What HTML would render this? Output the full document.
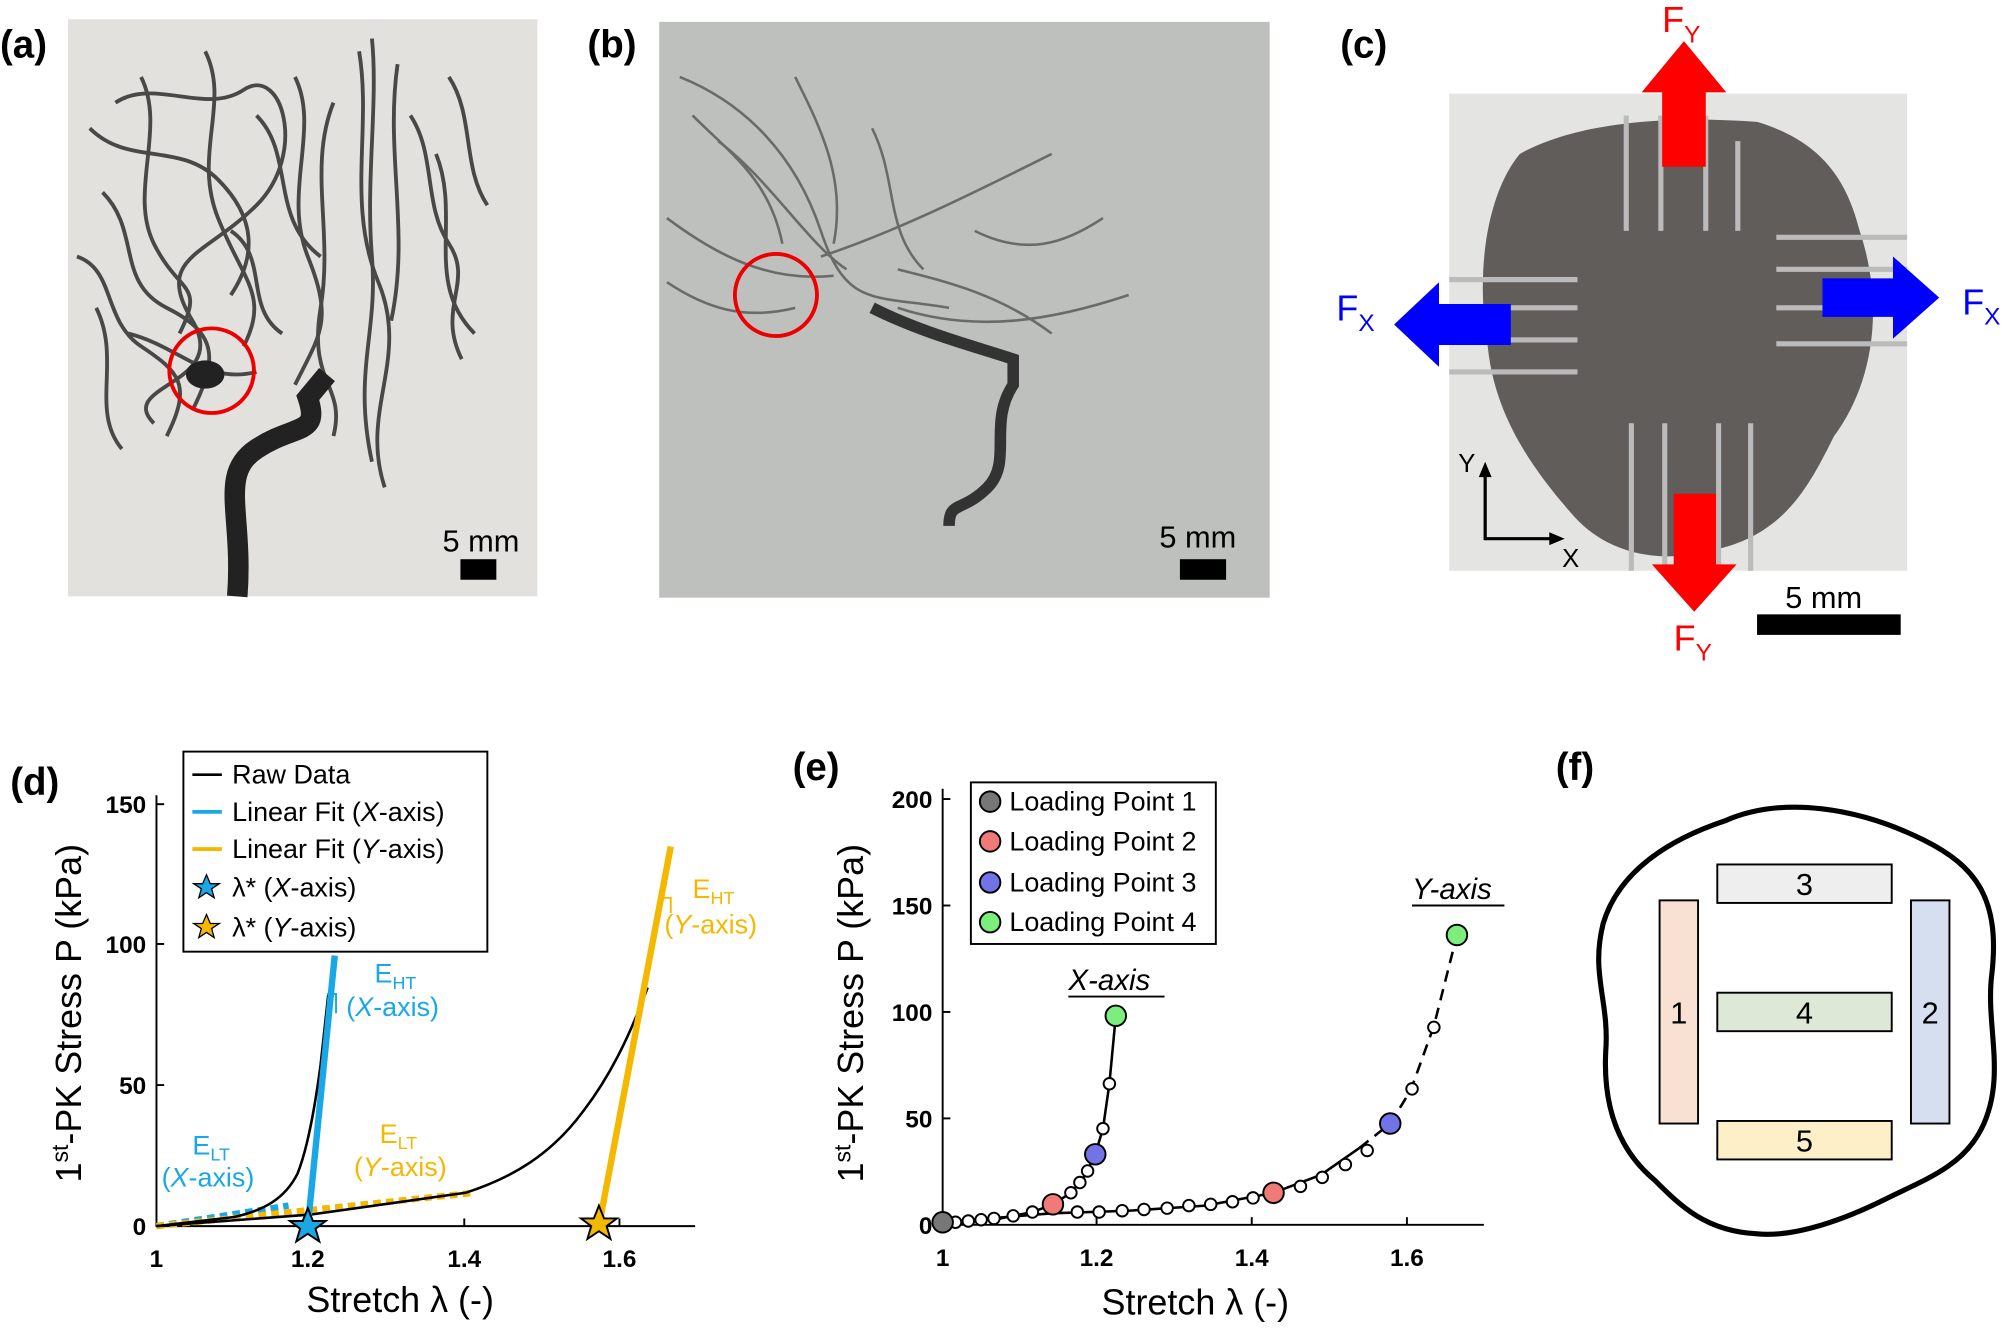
<!DOCTYPE html>
<html><head><meta charset="utf-8"><style>
html,body{margin:0;padding:0;background:#fff;}
svg{display:block;}
text{font-family:"Liberation Sans",Arial,sans-serif;}
</style></head><body>
<svg width="2011" height="1328" viewBox="0 0 1568 1035.4" xmlns="http://www.w3.org/2000/svg">
<rect width="1568" height="1036" fill="#fff"/>
<!-- panel a -->
<rect x="53" y="15" width="366" height="450" fill="#e2e1dd"/>
<g fill="none" stroke="#222" stroke-width="3" opacity="0.8">
<path d="M90 80 C120 60 160 90 190 70 S240 120 200 160 S120 200 150 250 S90 300 120 330"/>
<path d="M280 40 C290 100 270 160 295 220 S280 320 300 380"/>
<path d="M310 50 C300 120 320 180 305 250"/>
<path d="M80 150 C110 180 90 220 130 240 S170 280 150 320"/>
<path d="M200 90 C230 120 210 170 250 200"/>
<path d="M100 260 C140 270 160 300 200 290"/>
<path d="M340 120 C360 170 330 220 370 260"/>
<path d="M70 100 C100 130 140 110 170 140 S200 200 180 230"/>
<path d="M110 60 C130 100 100 150 120 190 S160 220 140 260"/>
<path d="M160 40 C180 80 150 120 170 170 S210 230 190 270"/>
<path d="M230 60 C250 100 220 150 240 200 S250 260 230 300"/>
<path d="M60 200 C90 210 80 250 110 270 S150 300 130 340"/>
<path d="M260 80 C240 130 260 180 250 240 S270 300 260 340"/>
<path d="M290 30 C295 80 285 140 290 200 S275 290 290 360"/>
<path d="M320 90 C340 120 330 160 350 190 S340 240 360 280"/>
<path d="M350 60 C370 90 360 130 380 160"/>
<path d="M75 240 C95 280 70 320 95 350"/>
<path d="M180 180 C210 200 190 240 220 260"/>
</g>
<path d="M185 465 C190 400 170 370 200 350 S250 340 240 310 L255 292" fill="none" stroke="#222" stroke-width="16"/>
<ellipse cx="160" cy="292" rx="15" ry="11" fill="#222"/>
<circle cx="165" cy="289" r="33" fill="none" stroke="#e00" stroke-width="3"/>
<text x="345" y="430" font-size="24">5 mm</text>
<rect x="359" y="436" width="28" height="16" fill="#000"/>
<text x="0" y="45" font-size="30" font-weight="bold">(a)</text>
<!-- panel b -->
<rect x="514" y="17" width="476" height="449" fill="#bdc0bd"/>
<g fill="none" stroke="#333" stroke-width="2" opacity="0.6">
<path d="M530 60 C580 80 620 120 640 180 S680 230 740 240"/>
<path d="M560 110 C600 140 630 190 660 210"/>
<path d="M520 170 C560 200 600 220 650 215"/>
<path d="M640 200 C700 180 760 150 820 120"/>
<path d="M700 240 C760 260 820 250 880 230"/>
<path d="M540 90 C570 120 600 140 610 190"/>
<path d="M620 60 C640 100 660 140 650 190"/>
<path d="M680 100 C700 140 690 180 720 210"/>
<path d="M760 180 C800 200 830 190 860 170"/>
<path d="M520 220 C550 240 580 250 620 240"/>
<path d="M700 210 C740 220 780 230 820 260"/>
</g>
<path d="M680 240 C720 260 760 270 790 280 L790 300 C770 330 790 360 770 380 S740 390 740 410" fill="none" stroke="#333" stroke-width="9"/>
<circle cx="605" cy="230" r="32" fill="none" stroke="#e00" stroke-width="3"/>
<text x="904" y="427" font-size="24">5 mm</text>
<rect x="920" y="436" width="36" height="16" fill="#000"/>
<text x="458" y="45" font-size="30" font-weight="bold">(b)</text>
<!-- panel c -->
<rect x="1130" y="73" width="357" height="372" fill="#e4e4e2"/>
<path d="M1185 120 C1230 95 1300 90 1370 95 C1420 110 1440 140 1450 180 C1470 240 1460 300 1430 340 C1410 380 1390 420 1330 430 C1290 440 1250 430 1225 400 C1190 360 1165 320 1160 270 C1150 210 1160 150 1185 120 Z" fill="#615d5b"/>
<g stroke="#bbb" stroke-width="4">
<line x1="1130" y1="218" x2="1230" y2="218"/><line x1="1130" y1="240" x2="1230" y2="240"/><line x1="1130" y1="265" x2="1230" y2="265"/><line x1="1130" y1="290" x2="1230" y2="290"/>
<line x1="1385" y1="185" x2="1487" y2="185"/><line x1="1385" y1="210" x2="1487" y2="210"/><line x1="1385" y1="240" x2="1487" y2="240"/><line x1="1385" y1="268" x2="1487" y2="268"/>
<line x1="1268" y1="90" x2="1268" y2="180"/><line x1="1295" y1="90" x2="1295" y2="180"/><line x1="1330" y1="90" x2="1330" y2="180"/><line x1="1355" y1="110" x2="1355" y2="180"/>
<line x1="1272" y1="330" x2="1272" y2="445"/><line x1="1298" y1="330" x2="1298" y2="445"/><line x1="1340" y1="330" x2="1340" y2="445"/><line x1="1365" y1="330" x2="1365" y2="445"/>
</g>
<polygon points="1296,130 1296,72 1280,72 1313,32 1346,72 1330,72 1330,130" fill="#f00"/>
<polygon points="1305,385 1305,440 1288,440 1321,477 1354,440 1338,440 1338,385" fill="#f00"/>
<polygon points="1178,237 1122,237 1122,220 1087,253 1122,286 1122,269 1178,269" fill="#00f"/>
<polygon points="1421,217 1476,217 1476,200 1512,232 1476,264 1476,247 1421,247" fill="#00f"/>
<text x="1296" y="25" font-size="28" fill="#f00">F<tspan font-size="19" dy="8">Y</tspan></text>
<text x="1305" y="507" font-size="28" fill="#f00">F<tspan font-size="19" dy="8">Y</tspan></text>
<text x="1042" y="250" font-size="28" fill="#00f">F<tspan font-size="19" dy="8">X</tspan></text>
<text x="1530" y="245" font-size="28" fill="#00f">F<tspan font-size="19" dy="8">X</tspan></text>
<path d="M1158 365 L1158 420 L1215 420" fill="none" stroke="#000" stroke-width="2.5"/>
<polygon points="1158,360 1153,372 1163,372" fill="#000"/><polygon points="1220,420 1208,415 1208,425" fill="#000"/>
<text x="1137" y="368" font-size="20">Y</text><text x="1218" y="442" font-size="20">X</text>
<text x="1392" y="474" font-size="24">5 mm</text>
<rect x="1370" y="479" width="112" height="16" fill="#000"/>
<text x="1045" y="45" font-size="30" font-weight="bold">(c)</text>
<!-- panel d -->
<text x="8" y="620" font-size="30" font-weight="bold">(d)</text>
<path d="M122 620 L122 956 L542 956" fill="none" stroke="#000" stroke-width="1.5"/>
<g stroke="#000" stroke-width="1.5"><line x1="122" y1="627" x2="128" y2="627"/><line x1="122" y1="736" x2="128" y2="736"/><line x1="122" y1="846" x2="128" y2="846"/>
<line x1="240" y1="956" x2="240" y2="950"/><line x1="362" y1="956" x2="362" y2="950"/><line x1="483" y1="956" x2="483" y2="950"/></g>
<g font-size="19" font-weight="bold" text-anchor="end"><text x="114" y="634">150</text><text x="114" y="743">100</text><text x="114" y="853">50</text><text x="114" y="963">0</text></g>
<g font-size="19" font-weight="bold" text-anchor="middle"><text x="122" y="988">1</text><text x="240" y="988">1.2</text><text x="362" y="988">1.4</text><text x="483" y="988">1.6</text></g>
<text x="312" y="1023" font-size="28" text-anchor="middle">Stretch λ (-)</text>
<text transform="translate(63,790) rotate(-90)" font-size="28" text-anchor="middle">1<tspan font-size="18" dy="-10">st</tspan><tspan dy="10">-PK Stress P (kPa)</tspan></text>
<line x1="122" y1="956" x2="225" y2="940" stroke="#1aa7e6" stroke-width="5" stroke-dasharray="6,4"/>
<line x1="122" y1="956" x2="370" y2="930" stroke="#f5b800" stroke-width="5" stroke-dasharray="6,4"/>
<path d="M122 956 L182 949 C205 944 222 935 232 915 C240 895 246 860 250 830 L256 775" fill="none" stroke="#000" stroke-width="2"/>
<path d="M122 956 L242 947 L363 930 C400 918 430 900 455 866 C475 840 490 810 505 770" fill="none" stroke="#000" stroke-width="2"/>
<line x1="240" y1="956" x2="261" y2="745" stroke="#1aa7e6" stroke-width="5"/>
<line x1="467" y1="956" x2="523" y2="660" stroke="#f5b800" stroke-width="5"/>
<polyline points="255,775 262,775 262,790" fill="none" stroke="#1aa7e6" stroke-width="1.5"/>
<polyline points="515,700 523,700 523,712" fill="none" stroke="#f5b800" stroke-width="1.5"/>
<polygon points="240,942 244,952 254,952 246,958 249,968 240,962 231,968 234,958 226,952 236,952" fill="#1aa7e6" stroke="#000" stroke-width="1.5"/>
<polygon points="467,940 471,950 481,950 473,956 476,966 467,960 458,966 461,956 453,950 463,950" fill="#f5b800" stroke="#000" stroke-width="1.5"/>
<g font-size="21" fill="#1aa7e6"><text x="150" y="900">E<tspan font-size="14" dy="5">LT</tspan></text><text x="126" y="925">(<tspan font-style="italic">X</tspan>-axis)</text>
<text x="292" y="766">E<tspan font-size="14" dy="5">HT</tspan></text><text x="270" y="792">(<tspan font-style="italic">X</tspan>-axis)</text></g>
<g font-size="21" fill="#f5b800"><text x="296" y="891">E<tspan font-size="14" dy="5">LT</tspan></text><text x="276" y="917">(<tspan font-style="italic">Y</tspan>-axis)</text>
<text x="540" y="700">E<tspan font-size="14" dy="5">HT</tspan></text><text x="518" y="728">(<tspan font-style="italic">Y</tspan>-axis)</text></g>
<rect x="143" y="586" width="237" height="156" fill="#fff" stroke="#000" stroke-width="1.5"/>
<g font-size="21"><text x="181" y="611">Raw Data</text><text x="181" y="640">Linear Fit (<tspan font-style="italic">X</tspan>-axis)</text><text x="181" y="669">Linear Fit (<tspan font-style="italic">Y</tspan>-axis)</text><text x="181" y="699">λ* (<tspan font-style="italic">X</tspan>-axis)</text><text x="181" y="730">λ* (<tspan font-style="italic">Y</tspan>-axis)</text></g>
<line x1="150" y1="604" x2="173" y2="604" stroke="#000" stroke-width="2"/>
<line x1="150" y1="633" x2="173" y2="633" stroke="#1aa7e6" stroke-width="3"/>
<line x1="150" y1="662" x2="173" y2="662" stroke="#f5b800" stroke-width="3"/>
<polygon points="161,682 164,689 171,689 165,693 167,700 161,696 155,700 157,693 151,689 158,689" fill="#1aa7e6" stroke="#000"/>
<polygon points="161,713 164,720 171,720 165,724 167,731 161,727 155,731 157,724 151,720 158,720" fill="#f5b800" stroke="#000"/>
<!-- panel e -->
<text x="618" y="608" font-size="30" font-weight="bold">(e)</text>
<path d="M735 615 L735 955 L1157 955" fill="none" stroke="#000" stroke-width="1.5"/>
<g stroke="#000" stroke-width="1.5"><line x1="735" y1="623" x2="741" y2="623"/><line x1="735" y1="706" x2="741" y2="706"/><line x1="735" y1="789" x2="741" y2="789"/><line x1="735" y1="872" x2="741" y2="872"/>
<line x1="855" y1="955" x2="855" y2="949"/><line x1="976" y1="955" x2="976" y2="949"/><line x1="1097" y1="955" x2="1097" y2="949"/></g>
<g font-size="19" font-weight="bold" text-anchor="end"><text x="727" y="630">200</text><text x="727" y="713">150</text><text x="727" y="796">100</text><text x="727" y="879">50</text><text x="727" y="962">0</text></g>
<g font-size="19" font-weight="bold" text-anchor="middle"><text x="735" y="987">1</text><text x="855" y="987">1.2</text><text x="976" y="987">1.4</text><text x="1097" y="987">1.6</text></g>
<text x="932" y="1025" font-size="28" text-anchor="middle">Stretch λ (-)</text>
<text transform="translate(673,790) rotate(-90)" font-size="28" text-anchor="middle">1<tspan font-size="18" dy="-10">st</tspan><tspan dy="10">-PK Stress P (kPa)</tspan></text>
<path d="M735 953 L780 950 L805 945 L821 939 L835 930 L845 918 L854 900 L860 880 L865 845 L870 792" fill="none" stroke="#000" stroke-width="2"/>
<path d="M735 953 L820 946 L880 944 L940 940 L993 930 L1030 916 L1060 895" fill="none" stroke="#000" stroke-width="2"/>
<path d="M1060 895 L1084 876 L1100 850 L1118 800 L1136 729" fill="none" stroke="#000" stroke-width="2" stroke-dasharray="9,6"/>
<g fill="#fff" stroke="#000" stroke-width="1.5">
<circle cx="745" cy="953" r="4.5"/><circle cx="755" cy="952" r="4.5"/><circle cx="765" cy="951" r="4.5"/><circle cx="775" cy="950" r="4.5"/><circle cx="790" cy="948" r="4.5"/><circle cx="805" cy="945" r="4.5"/>
<circle cx="835" cy="930" r="4.5"/><circle cx="842" cy="922" r="4.5"/><circle cx="848" cy="913" r="4.5"/><circle cx="860" cy="880" r="4.5"/><circle cx="865" cy="845" r="4.5"/>
<circle cx="840" cy="945" r="4.5"/><circle cx="857" cy="945" r="4.5"/><circle cx="875" cy="944" r="4.5"/><circle cx="892" cy="943" r="4.5"/><circle cx="910" cy="942" r="4.5"/><circle cx="927" cy="940" r="4.5"/><circle cx="944" cy="939" r="4.5"/><circle cx="961" cy="937" r="4.5"/><circle cx="977" cy="934" r="4.5"/>
<circle cx="1014" cy="925" r="4.5"/><circle cx="1031" cy="918" r="4.5"/><circle cx="1049" cy="908" r="4.5"/><circle cx="1066" cy="897" r="4.5"/><circle cx="1101" cy="849" r="4.5"/><circle cx="1118" cy="801" r="4.5"/>
</g>
<g stroke="#000" stroke-width="1.5">
<circle cx="735" cy="953" r="8" fill="#777"/>
<circle cx="821" cy="939" r="8" fill="#f07a78"/><circle cx="854" cy="900" r="8" fill="#7373e8"/><circle cx="870" cy="792" r="8" fill="#7cee7c"/>
<circle cx="993" cy="930" r="8" fill="#f07a78"/><circle cx="1084" cy="876" r="8" fill="#7373e8"/><circle cx="1136" cy="729" r="8" fill="#7cee7c"/>
</g>
<text x="833" y="772" font-size="23" font-style="italic">X-axis</text><line x1="833" y1="777" x2="908" y2="777" stroke="#000" stroke-width="1.5"/>
<text x="1101" y="701" font-size="23" font-style="italic">Y-axis</text><line x1="1101" y1="706" x2="1173" y2="706" stroke="#000" stroke-width="1.5"/>
<rect x="757" y="610" width="191" height="126" fill="#fff" stroke="#000" stroke-width="1.5"/>
<g stroke="#000" stroke-width="1.5"><circle cx="772" cy="625" r="8" fill="#777"/><circle cx="772" cy="656" r="8" fill="#f07a78"/><circle cx="772" cy="688" r="8" fill="#7373e8"/><circle cx="772" cy="719" r="8" fill="#7cee7c"/></g>
<g font-size="21"><text x="787" y="632">Loading Point 1</text><text x="787" y="663">Loading Point 2</text><text x="787" y="695">Loading Point 3</text><text x="787" y="726">Loading Point 4</text></g>
<!-- panel f -->
<text x="1213" y="608" font-size="30" font-weight="bold">(f)</text>
<path d="M1345 640 C1390 620 1450 630 1500 655 C1540 675 1560 700 1553 760 C1548 800 1565 840 1545 880 C1530 910 1500 920 1470 935 C1440 950 1400 965 1370 962 C1330 960 1310 940 1290 920 C1260 895 1250 860 1252 820 C1255 780 1240 760 1250 720 C1262 680 1300 655 1345 640 Z" fill="none" stroke="#000" stroke-width="4"/>
<g stroke="#000" stroke-width="1.5" font-size="24" text-anchor="middle">
<rect x="1339" y="674" width="136" height="30" fill="#eeeeee"/>
<rect x="1339" y="774" width="136" height="30" fill="#dde9d6"/>
<rect x="1339" y="874" width="136" height="30" fill="#fdf0c8"/>
<rect x="1294" y="702" width="30" height="174" fill="#f8e1d2"/>
<rect x="1490" y="702" width="30" height="174" fill="#d6dff0"/>
</g>
<g font-size="24" text-anchor="middle"><text x="1407" y="698">3</text><text x="1407" y="798">4</text><text x="1407" y="898">5</text><text x="1309" y="798">1</text><text x="1505" y="798">2</text></g>
</svg>
</body></html>
